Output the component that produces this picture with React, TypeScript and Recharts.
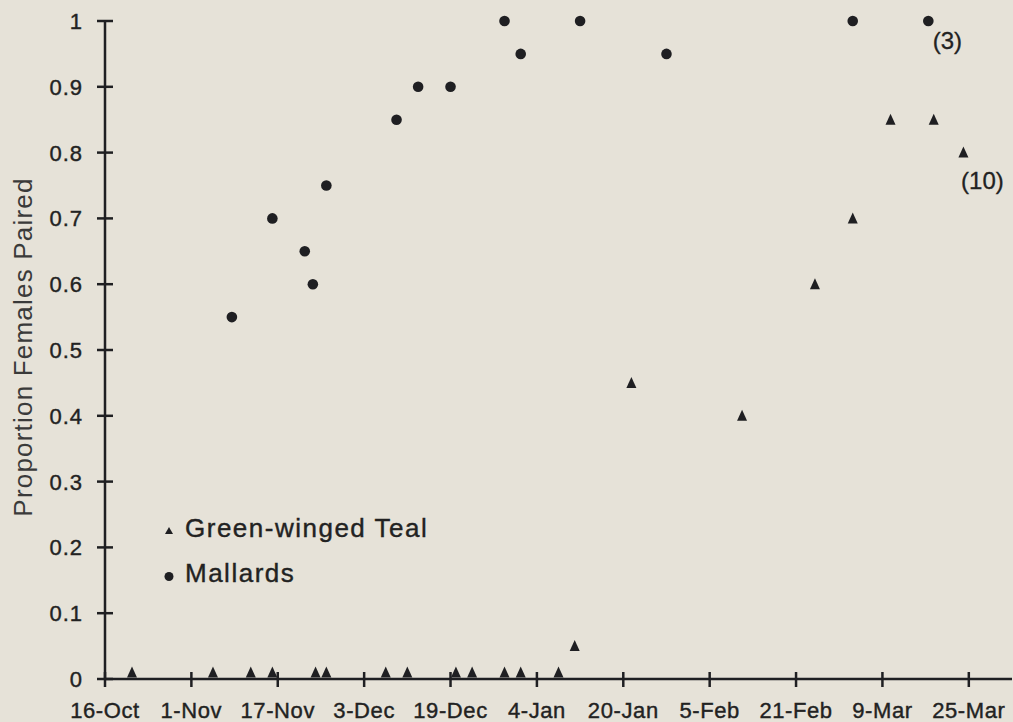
import React from 'react';
import { ScatterChart, Scatter, XAxis, YAxis, Legend } from 'recharts';

// days since 16-Oct
const xTickDays = [0, 16, 32, 48, 64, 80, 96, 112, 128, 144, 160];
const xTickLabels = ['16-Oct', '1-Nov', '17-Nov', '3-Dec', '19-Dec', '4-Jan', '20-Jan', '5-Feb', '21-Feb', '9-Mar', '25-Mar'];
const yTicks = [0, 0.1, 0.2, 0.3, 0.4, 0.5, 0.6, 0.7, 0.8, 0.9, 1];

const tealDays = [5, 20, 27, 31, 39, 41, 52, 56, 65, 68, 74, 77, 84, 87, 97.5, 118, 131.5, 138.5, 145.5, 153.5, 159];
const tealProp = [0.01, 0.01, 0.01, 0.01, 0.01, 0.01, 0.01, 0.01, 0.01, 0.01, 0.01, 0.01, 0.01, 0.05, 0.45, 0.4, 0.6, 0.7, 0.85, 0.85, 0.8];
const tealNotes = ['', '', '', '', '', '', '', '', '', '', '', '', '', '', '', '', '', '', '', '', '(10)'];

const mallardDays = [23.5, 31, 37, 38.5, 41, 54, 58, 64, 74, 77, 88, 104, 138.5, 152.5];
const mallardProp = [0.55, 0.7, 0.65, 0.6, 0.75, 0.85, 0.9, 0.9, 1, 0.95, 1, 0.95, 1, 1];
const mallardNotes = ['', '', '', '', '', '', '', '', '', '', '', '', '', '(3)'];

const BG = '#e6e2d8';
const INK = '#1f1f22';
const TEXT = '#222222';
const FONT = "'Liberation Sans', Arial, Helvetica, sans-serif";

const tealData = tealDays.map((day, i) => ({ day, prop: tealProp[i], note: tealNotes[i] }));
const mallardData = mallardDays.map((day, i) => ({ day, prop: mallardProp[i], note: mallardNotes[i] }));

const makeShape = (kind: 'triangle' | 'circle', noteDy: number) => (props: any) => {
  const { cx, cy } = props;
  const note = props.payload?.note ?? props.note;
  return (
    <g>
      {kind === 'circle' ? (
        <circle cx={cx} cy={cy} r={5.3} fill={INK} />
      ) : (
        <polygon points={`${cx},${cy - 6} ${cx + 5},${cy + 5} ${cx - 5},${cy + 5}`} fill={INK} />
      )}
      {note ? (
        <text x={cx + 19} y={cy + noteDy} textAnchor="middle" fontSize={24} fill={TEXT} stroke={TEXT} strokeWidth={0.3} fontFamily={FONT}>
          {note}
        </text>
      ) : null}
    </g>
  );
};

const XTick = (props: any) => {
  const { x, y, payload } = props;
  const label = xTickLabels[xTickDays.indexOf(payload.value)];
  return (
    <g>
      <line x1={x} x2={x} y1={y - 7} y2={y + 8} stroke={INK} strokeWidth={2.5} />
      <text x={x} y={y + 39} textAnchor="middle" fontSize={22} fill={TEXT} stroke={TEXT} strokeWidth={0.4} letterSpacing={0.6} fontFamily={FONT}>
        {label}
      </text>
    </g>
  );
};

const YTick = (props: any) => {
  const { x, y, payload } = props;
  return (
    <g>
      <line x1={x - 8} x2={x + 8} y1={y} y2={y} stroke={INK} strokeWidth={2.5} />
      <text x={x - 22} y={y} dy="0.36em" textAnchor="end" fontSize={22} fill={TEXT} stroke={TEXT} strokeWidth={0.4} fontFamily={FONT} letterSpacing={1}>
        {String(payload.value)}
      </text>
    </g>
  );
};

const YLabel = (props: any) => {
  const vb = props.viewBox || {};
  const cy = (vb.y ?? 21) + (vb.height ?? 658) / 2 - 3;
  const cx = 23;
  return (
    <text
      x={cx}
      y={cy}
      transform={`rotate(-90 ${cx} ${cy})`}
      textAnchor="middle"
      dominantBaseline="central"
      fontSize={26}
      letterSpacing={1.2}
      fill="#3a3a3a"
      fontFamily={FONT}
    >
      Proportion Females Paired
    </text>
  );
};

const LegendBox = (props: any) => {
  const items = props.payload || [];
  return (
    <svg width={320} height={90} style={{ display: 'block' }}>
      {items.map((it: any, i: number) => {
        const my = 26 + i * 45.5;
        return (
          <g key={it.value}>
            {it.type === 'triangle' ? (
              <polygon points={`19,${my - 4} 23,${my + 3} 15,${my + 3}`} fill={INK} />
            ) : (
              <circle cx={19} cy={my} r={4.5} fill={INK} />
            )}
            <text x={35} y={my + 5.5} fontSize={26} letterSpacing={1.5} fill={TEXT} stroke={TEXT} strokeWidth={0.4} fontFamily={FONT}>
              {it.value}
            </text>
          </g>
        );
      })}
    </svg>
  );
};

export default function App() {
  return (
    <div style={{ position: 'absolute', left: 0, top: 0, width: 1013, height: 722, background: BG, fontFamily: FONT }}>
      <ScatterChart width={1013} height={722} margin={{ top: 21, right: 1, bottom: 0, left: 0 }}>
        <XAxis
          dataKey="day"
          type="number"
          domain={[0, 168]}
          ticks={xTickDays}
          interval={0}
          height={43}
          tickSize={0}
          tickMargin={0}
          tickLine={false}
          axisLine={{ stroke: INK, strokeWidth: 2.5 }}
          tick={<XTick />}
        />
        <YAxis
          dataKey="prop"
          type="number"
          domain={[0, 1]}
          ticks={yTicks}
          interval={0}
          width={105}
          tickSize={0}
          tickMargin={0}
          tickLine={false}
          axisLine={{ stroke: INK, strokeWidth: 2.5 }}
          tick={<YTick />}
          label={YLabel}
        />
        <Legend
          layout="vertical"
          align="center"
          verticalAlign="middle"
          content={<LegendBox />}
          wrapperStyle={{ left: 150, top: 505, width: 320, height: 90 }}
        />
        <Scatter
          name="Green-winged Teal"
          data={tealData}
          legendType="triangle"
          fill={INK}
          shape={makeShape('triangle', 36)}
          isAnimationActive={false}
        />
        <Scatter
          name="Mallards"
          data={mallardData}
          legendType="circle"
          fill={INK}
          shape={makeShape('circle', 28)}
          isAnimationActive={false}
        />
      </ScatterChart>
    </div>
  );
}
